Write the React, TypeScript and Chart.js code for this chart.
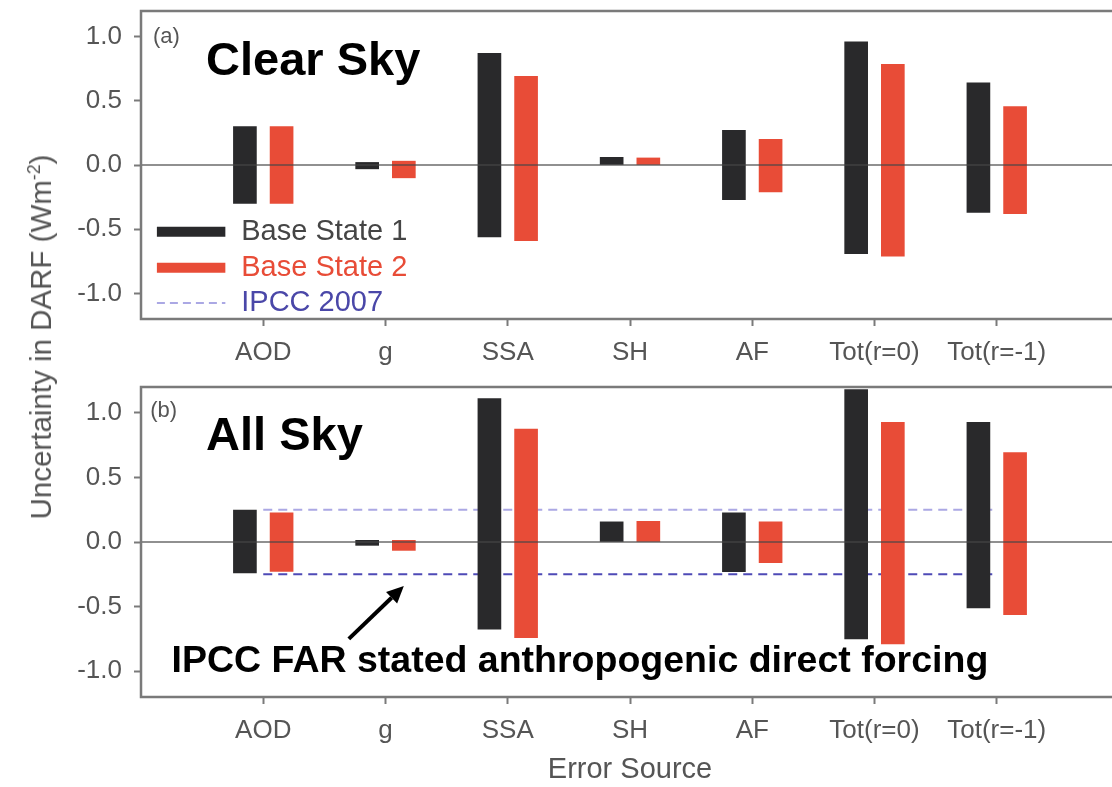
import React, { useEffect, useRef } from 'react';
import { Chart, registerables } from 'chart.js';

Chart.register(...registerables);

// ---------- data ----------
const CATEGORIES = ['AOD', 'g', 'SSA', 'SH', 'AF', 'Tot(r=0)', 'Tot(r=-1)'];

// (a) Clear Sky
const CLEAR_BS1_LOW = [-0.30, -0.03, -0.56, 0.0, -0.27, -0.69, -0.37];
const CLEAR_BS1_HIGH = [0.30, 0.02, 0.87, 0.06, 0.27, 0.96, 0.64];
const CLEAR_BS2_LOW = [-0.30, -0.10, -0.59, 0.0, -0.21, -0.71, -0.38];
const CLEAR_BS2_HIGH = [0.30, 0.03, 0.69, 0.055, 0.20, 0.785, 0.455];

// (b) All Sky
const ALL_BS1_LOW = [-0.24, -0.026, -0.675, 0.0, -0.23, -0.75, -0.51];
const ALL_BS1_HIGH = [0.247, 0.013, 1.11, 0.156, 0.226, 1.18, 0.927];
const ALL_BS2_LOW = [-0.228, -0.065, -0.74, 0.0, -0.16, -0.79, -0.563];
const ALL_BS2_HIGH = [0.226, 0.013, 0.875, 0.16, 0.156, 0.927, 0.693];

// IPCC 2007 band (All Sky panel), spans first to last category
const IPCC_LOW = -0.25;
const IPCC_HIGH = 0.25;

const Y_TICKS = [-1.0, -0.5, 0.0, 0.5, 1.0];
const LEGEND_LABELS = ['Base State 1', 'Base State 2', 'IPCC 2007'];

// ---------- style ----------
const FONT = '"Liberation Sans", Arial, Helvetica, sans-serif';
const BLACK = '#29292b';
const RED = '#e84c37';
const IPCC_LIGHT = '#aba8e4';
const IPCC_DARK = '#4e4ab6';
const AXIS_GRAY = '#7a7a7a';
const TEXT_GRAY = '#555555';
const BAR_OFFSET = 0.15;

type PanelOpts = {
  bs1Low: number[];
  bs1High: number[];
  bs2Low: number[];
  bs2High: number[];
  tag: string;
  tagPos: [number, number];
  title: string;
  titlePos: [number, number];
  showLegend: boolean;
  showIpcc: boolean;
  padTop: number;
  axisHeight: number;
  xTitle: string | null;
};

function barDataset(label: string, lows: number[], highs: number[], color: string, offset: number) {
  return {
    type: 'bar' as const,
    label,
    data: CATEGORIES.map((_, i) => ({ x: i + 1 + offset, y: [lows[i], highs[i]] })),
    backgroundColor: color,
    borderWidth: 0,
    barThickness: 23,
    maxBarThickness: 23,
    grouped: false,
    order: 1,
  };
}

function lineDataset(label: string, value: number, color: string) {
  return {
    type: 'line' as const,
    label,
    data: [
      { x: 1, y: value },
      { x: CATEGORIES.length, y: value },
    ],
    borderColor: color,
    borderWidth: 2,
    borderDash: [9, 6],
    pointRadius: 0,
    fill: false,
    order: 2,
  };
}

function panelPlugin(o: PanelOpts) {
  return {
    id: 'panelDecor',
    afterDatasetsDraw(chart: any) {
      const { ctx, chartArea: a, scales } = chart;
      const x = scales.x;
      const y = scales.y;
      ctx.save();
      // zero line on top of bars
      const y0 = y.getPixelForValue(0);
      ctx.strokeStyle = 'rgba(70,70,70,0.6)';
      ctx.lineWidth = 2;
      ctx.beginPath();
      ctx.moveTo(a.left, y0);
      ctx.lineTo(a.right, y0);
      ctx.stroke();
      // frame
      ctx.strokeStyle = AXIS_GRAY;
      ctx.lineWidth = 2.5;
      ctx.strokeRect(a.left, a.top, a.right - a.left, a.bottom - a.top);

      // panel tag
      ctx.fillStyle = TEXT_GRAY;
      ctx.font = `22px ${FONT}`;
      ctx.textAlign = 'left';
      ctx.textBaseline = 'middle';
      ctx.fillText(o.tag, x.getPixelForValue(o.tagPos[0]), y.getPixelForValue(o.tagPos[1]));

      // panel title
      ctx.fillStyle = '#000';
      ctx.font = `bold 47px ${FONT}`;
      ctx.textBaseline = 'alphabetic';
      ctx.fillText(o.title, x.getPixelForValue(o.titlePos[0]), y.getPixelForValue(o.titlePos[1]));

      if (o.showLegend) {
        const rows = [-0.52, -0.80, -1.075];
        const x1 = x.getPixelForValue(0.13);
        const x2 = x.getPixelForValue(0.69);
        const tx = x.getPixelForValue(0.82);
        const colors = [BLACK, RED, IPCC_LIGHT];
        const textColors = ['#454545', RED, '#4a47a8'];
        ctx.font = `29px ${FONT}`;
        ctx.textBaseline = 'middle';
        rows.forEach((rv, i) => {
          const py = y.getPixelForValue(rv);
          ctx.strokeStyle = colors[i];
          if (i < 2) {
            ctx.lineWidth = 10;
            ctx.setLineDash([]);
          } else {
            ctx.lineWidth = 2;
            ctx.setLineDash([8, 5]);
          }
          ctx.beginPath();
          ctx.moveTo(x1, py);
          ctx.lineTo(x2, py);
          ctx.stroke();
          ctx.setLineDash([]);
          ctx.fillStyle = textColors[i];
          ctx.fillText(LEGEND_LABELS[i], tx, py);
        });
      }

      if (o.showIpcc) {
        // arrow pointing at the IPCC line
        const ax1 = x.getPixelForValue(1.70);
        const ay1 = y.getPixelForValue(-0.75);
        const ax2 = x.getPixelForValue(2.15);
        const ay2 = y.getPixelForValue(-0.34);
        const ang = Math.atan2(ay2 - ay1, ax2 - ax1);
        const hl = 17;
        const hw = 8;
        const bx = ax2 - hl * Math.cos(ang);
        const by = ay2 - hl * Math.sin(ang);
        ctx.strokeStyle = '#000';
        ctx.lineWidth = 4;
        ctx.beginPath();
        ctx.moveTo(ax1, ay1);
        ctx.lineTo(bx, by);
        ctx.stroke();
        ctx.fillStyle = '#000';
        ctx.beginPath();
        ctx.moveTo(ax2, ay2);
        ctx.lineTo(bx + hw * Math.sin(ang), by - hw * Math.cos(ang));
        ctx.lineTo(bx - hw * Math.sin(ang), by + hw * Math.cos(ang));
        ctx.closePath();
        ctx.fill();

        ctx.font = `bold 37.5px ${FONT}`;
        ctx.textBaseline = 'alphabetic';
        ctx.fillText('IPCC FAR stated anthropogenic direct forcing', x.getPixelForValue(0.25), y.getPixelForValue(-1.01));
      }
      ctx.restore();
    },
  };
}

function panelConfig(o: PanelOpts): any {
  const datasets: any[] = [
    barDataset('Base State 1', o.bs1Low, o.bs1High, BLACK, -BAR_OFFSET),
    barDataset('Base State 2', o.bs2Low, o.bs2High, RED, BAR_OFFSET),
  ];
  if (o.showIpcc) {
    datasets.push(lineDataset('IPCC 2007 high', IPCC_HIGH, IPCC_LIGHT));
    datasets.push(lineDataset('IPCC 2007 low', IPCC_LOW, IPCC_DARK));
  }
  return {
    type: 'bar',
    data: { datasets },
    options: {
      responsive: false,
      animation: false,
      devicePixelRatio: 1,
      layout: { padding: { left: 0, right: 0, top: o.padTop, bottom: 0 } },
      plugins: { legend: { display: false }, tooltip: { enabled: false } },
      scales: {
        x: {
          type: 'linear',
          offset: false,
          min: 0,
          max: 8,
          afterBuildTicks: (s: any) => {
            s.ticks = CATEGORIES.map((_, i) => ({ value: i + 1 }));
          },
          afterFit: (s: any) => {
            s.height = o.axisHeight;
            s.paddingLeft = 0;
            s.paddingRight = 0;
          },
          ticks: {
            autoSkip: false,
            maxRotation: 0,
            color: TEXT_GRAY,
            padding: 11,
            font: { family: FONT, size: 26 },
            callback: (v: number) => CATEGORIES[Math.round(v) - 1] ?? '',
          },
          grid: {
            display: true,
            offset: false,
            drawOnChartArea: false,
            drawTicks: true,
            tickLength: 7,
            tickWidth: 2,
            tickColor: AXIS_GRAY,
          },
          border: { display: false },
          title: o.xTitle
            ? {
                display: true,
                text: o.xTitle,
                color: TEXT_GRAY,
                font: { family: FONT, size: 29 },
                padding: { top: 0, bottom: 0 },
              }
            : { display: false },
        },
        y: {
          min: -1.2,
          max: 1.2,
          afterBuildTicks: (s: any) => {
            s.ticks = Y_TICKS.map((v) => ({ value: v }));
          },
          afterFit: (s: any) => {
            s.width = 141;
            s.paddingTop = 0;
            s.paddingBottom = 0;
          },
          ticks: {
            color: TEXT_GRAY,
            padding: 12,
            font: { family: FONT, size: 26 },
            callback: (v: number) => Number(v).toFixed(1),
          },
          grid: {
            display: true,
            drawOnChartArea: false,
            drawTicks: true,
            tickLength: 7,
            tickWidth: 2,
            tickColor: AXIS_GRAY,
          },
          border: { display: false },
        },
      },
    },
    plugins: [panelPlugin(o)],
  };
}

export default function App() {
  const refA = useRef<HTMLCanvasElement>(null);
  const refB = useRef<HTMLCanvasElement>(null);

  useEffect(() => {
    const chartA = new Chart(
      refA.current as HTMLCanvasElement,
      panelConfig({
        bs1Low: CLEAR_BS1_LOW,
        bs1High: CLEAR_BS1_HIGH,
        bs2Low: CLEAR_BS2_LOW,
        bs2High: CLEAR_BS2_HIGH,
        tag: '(a)',
        tagPos: [0.098, 0.995],
        title: 'Clear Sky',
        titlePos: [0.532, 0.70],
        showLegend: true,
        showIpcc: false,
        padTop: 11,
        axisHeight: 51,
        xTitle: null,
      })
    );
    const chartB = new Chart(
      refB.current as HTMLCanvasElement,
      panelConfig({
        bs1Low: ALL_BS1_LOW,
        bs1High: ALL_BS1_HIGH,
        bs2Low: ALL_BS2_LOW,
        bs2High: ALL_BS2_HIGH,
        tag: '(b)',
        tagPos: [0.075, 1.018],
        title: 'All Sky',
        titlePos: [0.532, 0.714],
        showLegend: false,
        showIpcc: true,
        padTop: 17,
        axisHeight: 90,
        xTitle: 'Error Source',
      })
    );
    return () => {
      chartA.destroy();
      chartB.destroy();
    };
  }, []);

  return (
    <div
      style={{
        position: 'fixed',
        left: 0,
        top: 0,
        width: 1112,
        height: 787,
        overflow: 'hidden',
        background: '#ffffff',
      }}
    >
      <canvas ref={refA} width={1119} height={370} style={{ position: 'absolute', left: 0, top: 0 }} />
      <canvas ref={refB} width={1119} height={417} style={{ position: 'absolute', left: 0, top: 370 }} />
      <div
        style={{
          position: 'absolute',
          left: 41,
          top: 337,
          transform: 'translate(-50%, -50%) rotate(-90deg)',
          whiteSpace: 'nowrap',
          fontFamily: FONT,
          fontSize: 29.5,
          lineHeight: '34px',
          color: TEXT_GRAY,
        }}
      >
        Uncertainty in DARF (Wm<sup style={{ fontSize: '0.6em', lineHeight: 0 }}>-2</sup>)
      </div>
    </div>
  );
}
